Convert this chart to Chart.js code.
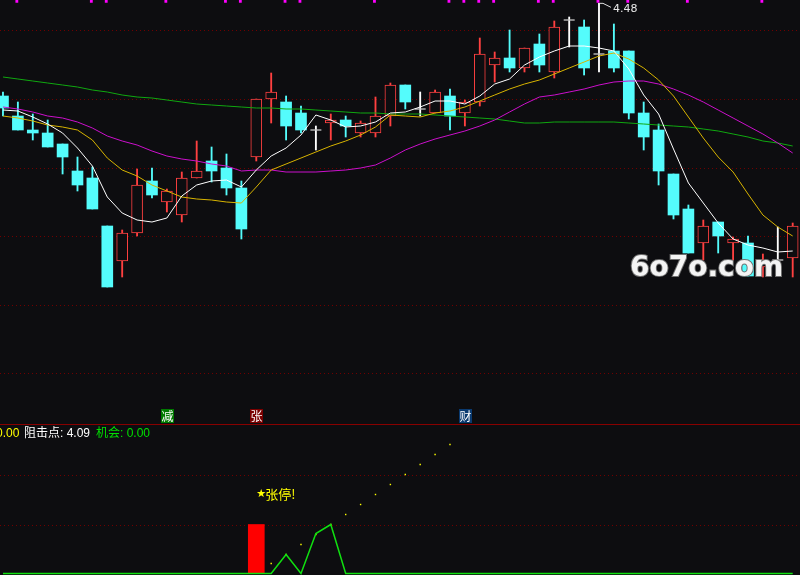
<!DOCTYPE html>
<html>
<head>
<meta charset="utf-8">
<title>K线</title>
<script src="https://cdn.jsdelivr.net/npm/chart.js@4.4.1/dist/chart.umd.min.js"></script>
<style>
  html, body { margin: 0; padding: 0; background: #0d0d10; overflow: hidden; }
  canvas { display: block; }
</style>
</head>
<body>
<canvas id="priceChart" width="800" height="424"></canvas>
<canvas id="signalChart" width="800" height="151"></canvas>
<script>
// 日K
const opens  = [4.202,4.142,4.100,4.091,4.058,3.977,3.956,3.812,3.707,3.791,3.947,3.884,3.845,3.956,4.007,3.986,3.926,4.019,4.193,4.184,4.151,4.100,4.121,4.130,4.091,4.091,4.142,4.235,4.163,4.151,4.202,4.151,4.184,4.295,4.316,4.286,4.358,4.274,4.430,4.409,4.328,4.337,4.337,4.151,4.100,3.968,3.863,3.761,3.824,3.761,3.761,3.689,3.710,3.716];
const highs  = [4.214,4.184,4.148,4.130,4.058,4.019,3.989,3.812,3.800,3.983,3.986,3.923,3.974,4.067,4.049,4.028,3.947,4.193,4.271,4.202,4.172,4.112,4.148,4.142,4.127,4.199,4.241,4.235,4.214,4.220,4.223,4.190,4.376,4.334,4.400,4.346,4.388,4.427,4.439,4.430,4.480,4.418,4.337,4.184,4.118,3.968,3.875,3.830,3.824,3.779,3.782,3.728,3.809,3.821];
const lows   = [4.142,4.100,4.070,4.049,3.968,3.917,3.863,3.629,3.659,3.782,3.896,3.854,3.824,3.956,3.944,3.905,3.773,4.007,4.121,4.070,4.091,4.040,4.070,4.079,4.079,4.079,4.112,4.163,4.142,4.151,4.100,4.112,4.172,4.244,4.274,4.274,4.274,4.256,4.349,4.265,4.274,4.274,4.133,4.040,3.935,3.833,3.731,3.710,3.731,3.710,3.662,3.659,3.710,3.659];
const closes = [4.166,4.100,4.091,4.049,4.019,3.935,3.863,3.629,3.791,3.935,3.905,3.917,3.956,3.977,3.977,3.926,3.803,4.193,4.214,4.112,4.100,4.100,4.130,4.112,4.121,4.142,4.235,4.184,4.163,4.214,4.142,4.184,4.328,4.316,4.286,4.346,4.295,4.409,4.430,4.286,4.328,4.286,4.151,4.079,3.977,3.845,3.731,3.812,3.782,3.773,3.662,3.704,3.710,3.812];

// 均线
const ma5  = [4.160,4.157,4.139,4.118,4.091,4.046,3.992,3.899,3.851,3.830,3.824,3.836,3.902,3.935,3.947,3.950,3.929,3.980,4.022,4.046,4.085,4.145,4.130,4.109,4.112,4.124,4.151,4.154,4.169,4.187,4.187,4.178,4.202,4.238,4.253,4.295,4.319,4.337,4.352,4.352,4.346,4.337,4.283,4.205,4.148,4.043,3.941,3.881,3.821,3.773,3.755,3.746,3.734,3.737];
const ma10 = [4.142,4.136,4.127,4.115,4.109,4.100,4.070,4.016,3.980,3.962,3.935,3.917,3.899,3.893,3.890,3.884,3.881,3.929,3.980,3.998,4.016,4.034,4.052,4.067,4.085,4.109,4.145,4.142,4.139,4.151,4.157,4.169,4.187,4.205,4.223,4.238,4.250,4.268,4.286,4.304,4.322,4.331,4.313,4.286,4.250,4.202,4.139,4.076,4.019,3.974,3.908,3.845,3.809,3.782];
const ma30 = [4.169,4.163,4.154,4.142,4.136,4.124,4.106,4.082,4.067,4.055,4.037,4.022,4.013,4.007,3.998,3.992,3.977,3.980,3.980,3.974,3.974,3.974,3.977,3.980,3.986,3.995,4.016,4.040,4.058,4.073,4.085,4.097,4.112,4.130,4.154,4.178,4.199,4.205,4.214,4.223,4.235,4.244,4.247,4.247,4.238,4.223,4.205,4.184,4.160,4.136,4.112,4.088,4.061,4.031];
const ma60 = [4.259,4.253,4.247,4.241,4.235,4.229,4.220,4.214,4.205,4.199,4.196,4.190,4.184,4.178,4.175,4.172,4.169,4.166,4.166,4.163,4.163,4.160,4.157,4.154,4.151,4.151,4.148,4.148,4.148,4.145,4.142,4.139,4.136,4.133,4.127,4.121,4.121,4.124,4.124,4.124,4.124,4.124,4.121,4.118,4.115,4.112,4.109,4.103,4.097,4.088,4.079,4.067,4.061,4.052];

const priceGrid = [4.40, 4.193, 3.986, 3.782, 3.575, 3.371];
const infoMarks = [1,6,7,11,15,16,19,20,25,30,31,32,33,36,37,40,42,46,51];
const signalIdx  = [11, 17, 31];
const signalText = ['减', '张', '财'];
const highIdx = 40;
const highLabel = '4.48';

// 副图
const limitUpIdx  = [17];
const limitUpVals = [49];
const chanceLine = [0,0,0,0,0,0,0,0,0,0,0,0,0,0,0,0,0,0,0,19,0,40,49,0,0,0,0,0,0,0,0,0,0,0,0,0,0,0,0,0,0,0,0,0,0,0,0,0,0,0,0,0,0,0];
const trendIdx  = [18,19,20,21,22,23,24,25,26,27,28,29,30];
const trendVals = [10,19,29,39,49,59,69,79,89,99,109,119,129];
const subGrid = [49, 99];
const prevVal = 0.00;
const resistPrice = 4.09;
const chanceVal = 0.00;

const BG = '#0d0d10';
const RED = '#ff4040';
const CYAN = '#54fcfc';
const WHITE = '#ffffff';
const GRID = '#700000';
const X_MIN = -0.2, X_MAX = 53.49;

const candleColor = i => closes[i] > opens[i] ? RED : (closes[i] < opens[i] ? CYAN : WHITE);
const idx = ctx => (ctx.dataIndex === undefined ? 0 : ctx.dataIndex);

const xScale = { type: 'linear', display: false, min: X_MIN, max: X_MAX, offset: false };

// 点状网格线
const dotGrid = values => ({
    id: 'dotGrid',
    beforeDatasetsDraw(chart) {
        const { ctx, chartArea, scales: { y } } = chart;
        ctx.save();
        ctx.strokeStyle = GRID;
        ctx.lineWidth = 1;
        ctx.setLineDash([1, 3]);
        values.forEach(v => {
            const py = Math.round(y.getPixelForValue(v)) + 0.5;
            ctx.beginPath();
            ctx.moveTo(chartArea.left, py);
            ctx.lineTo(chartArea.right, py);
            ctx.stroke();
        });
        ctx.restore();
    }
});

const priceDecor = {
    id: 'priceDecor',
    afterDraw(chart) {
        const { ctx, scales: { x, y } } = chart;
        ctx.save();
        // 最高价标注
        const hx = x.getPixelForValue(highIdx);
        const hy = y.getPixelForValue(highs[highIdx]);
        ctx.strokeStyle = '#e0e0e0';
        ctx.lineWidth = 1;
        ctx.beginPath();
        ctx.moveTo(hx, hy);
        ctx.lineTo(hx + 4, hy);
        ctx.lineTo(hx + 12, hy + 4);
        ctx.stroke();
        ctx.fillStyle = '#e8e8e8';
        ctx.font = '11px "DejaVu Sans"';
        ctx.textBaseline = 'middle';
        ctx.fillText(highLabel, hx + 14, hy + 5.5);

        // 信号方块
        const boxBg = ['#007a00', '#7a0000', '#0a3a70'];
        ctx.font = '12px "Noto Sans CJK SC"';
        ctx.textAlign = 'center';
        signalIdx.forEach((s, k) => {
            const sx = Math.round(x.getPixelForValue(s)) - 6;
            ctx.fillStyle = boxBg[k];
            ctx.fillRect(sx, 409, 13, 14);
            ctx.fillStyle = '#ffffff';
            ctx.fillText(signalText[k], sx + 6.5, 416.5);
        });

        // 水印
        ctx.textAlign = 'left';
        ctx.textBaseline = 'alphabetic';
        ctx.font = 'bold 28px "DejaVu Sans"';
        ctx.lineWidth = 2;
        ctx.strokeStyle = '#707070';
        ctx.strokeText('6o7o.com', 630, 276);
        ctx.fillStyle = '#f4f4f4';
        ctx.fillText('6o7o.com', 630, 276);
        ctx.restore();
    }
};

new Chart(document.getElementById('priceChart'), {
    type: 'bar',
    data: {
        datasets: [
            {
                label: 'wick',
                data: lows.map((l, i) => ({ x: i, y: [l, highs[i]] })),
                backgroundColor: ctx => candleColor(idx(ctx)),
                barThickness: 1.2,
                grouped: false,
                order: 6
            },
            {
                label: 'body',
                data: opens.map((o, i) => ({ x: i, y: [o, closes[i]] })),
                backgroundColor: ctx => closes[idx(ctx)] < opens[idx(ctx)] ? CYAN : BG,
                borderColor: ctx => closes[idx(ctx)] > opens[idx(ctx)] ? RED : 'rgba(0,0,0,0)',
                borderWidth: ctx => closes[idx(ctx)] > opens[idx(ctx)] ? 1 : 0,
                borderSkipped: false,
                barThickness: 11,
                grouped: false,
                order: 5
            },
            {
                type: 'scatter',
                label: 'doji',
                data: opens.map((o, i) => ({ x: i, y: o })).filter((p, i) => opens[i] === closes[i]),
                pointStyle: 'line',
                pointRadius: 5.5,
                pointBorderColor: WHITE,
                pointBorderWidth: 1,
                order: 4
            },
            { type: 'line', label: 'MA60', data: ma60.map((v, i) => ({ x: i, y: v })), borderColor: '#10a810', borderWidth: 1, pointRadius: 0, order: 3 },
            { type: 'line', label: 'MA30', data: ma30.map((v, i) => ({ x: i, y: v })), borderColor: '#cc10cc', borderWidth: 1, pointRadius: 0, order: 2 },
            { type: 'line', label: 'MA10', data: ma10.map((v, i) => ({ x: i, y: v })), borderColor: '#d8b400', borderWidth: 1, pointRadius: 0, order: 1 },
            { type: 'line', label: 'MA5', data: ma5.map((v, i) => ({ x: i, y: v })), borderColor: WHITE, borderWidth: 1, pointRadius: 0, order: 0 },
            {
                type: 'scatter',
                label: 'info',
                data: infoMarks.map(m => ({ x: m - 0.07, y: 4.486 })),
                pointStyle: 'rect',
                pointRadius: 2,
                pointBackgroundColor: '#ff00ff',
                pointBorderWidth: 0,
                order: 0
            }
        ]
    },
    options: {
        responsive: false,
        animation: false,
        devicePixelRatio: 1,
        layout: { padding: 0, autoPadding: false },
        plugins: { legend: { display: false }, tooltip: { enabled: false } },
        scales: {
            x: xScale,
            y: { type: 'linear', display: false, min: 3.218, max: 4.49 }
        }
    },
    plugins: [dotGrid(priceGrid), priceDecor]
});

const subDecor = {
    id: 'subDecor',
    afterDraw(chart) {
        const { ctx, scales: { x, y } } = chart;
        ctx.save();
        ctx.fillStyle = '#880000';
        ctx.fillRect(0, 0, chart.width, 1);

        ctx.font = '12px "Liberation Sans", "Noto Sans CJK SC"';
        ctx.textBaseline = 'middle';
        ctx.fillStyle = '#ffff00';
        ctx.fillText(prevVal.toFixed(2), -4, 9.5);
        ctx.fillStyle = '#ffffff';
        ctx.fillText('阻击点: ' + resistPrice.toFixed(2), 24, 9.5);
        ctx.fillStyle = '#00e000';
        ctx.fillText('机会: ' + chanceVal.toFixed(2), 96, 9.5);

        // 涨停提示
        const lx = x.getPixelForValue(limitUpIdx[0]);
        const ly = y.getPixelForValue(limitUpVals[0]) - 30;
        ctx.fillStyle = '#ffff00';
        ctx.font = '11px "DejaVu Sans"';
        ctx.fillText('★', lx, ly);
        ctx.font = '13px "Noto Sans CJK SC"';
        ctx.fillText('张停!', lx + 9, ly);
        ctx.restore();
    }
};

new Chart(document.getElementById('signalChart'), {
    type: 'bar',
    data: {
        datasets: [
            {
                label: 'limitUp',
                data: limitUpIdx.map((s, k) => ({ x: s, y: [0, limitUpVals[k]] })),
                backgroundColor: '#ff0000',
                barThickness: 16,
                grouped: false,
                order: 3
            },
            {
                type: 'scatter',
                label: 'trend',
                data: trendIdx.map((s, k) => ({ x: s, y: trendVals[k] })),
                pointStyle: 'rect',
                pointRadius: 1,
                pointBackgroundColor: '#ffff00',
                pointBorderWidth: 0,
                order: 2
            },
            {
                type: 'line',
                label: 'chance',
                data: chanceLine.map((v, i) => ({ x: i, y: v })),
                borderColor: '#10e010',
                borderWidth: 1.5,
                pointRadius: 0,
                clip: false,
                order: 1
            }
        ]
    },
    options: {
        responsive: false,
        animation: false,
        devicePixelRatio: 1,
        layout: { padding: 0, autoPadding: false },
        plugins: { legend: { display: false }, tooltip: { enabled: false } },
        scales: {
            x: xScale,
            y: { type: 'linear', display: false, min: -1.5, max: 149.5 }
        }
    },
    plugins: [dotGrid(subGrid), subDecor]
});
</script>
</body>
</html>
